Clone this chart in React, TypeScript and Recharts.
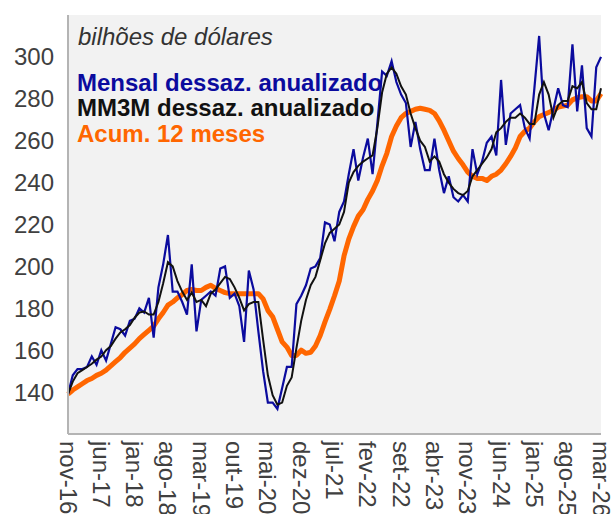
import React from 'react';
import { LineChart, Line, XAxis, YAxis, CartesianGrid } from 'recharts';

// meses (nov-16 .. mar-26)
const months = [
  'nov-16', 'dez-16',
  'jan-17', 'fev-17', 'mar-17', 'abr-17', 'mai-17', 'jun-17', 'jul-17', 'ago-17', 'set-17', 'out-17', 'nov-17', 'dez-17',
  'jan-18', 'fev-18', 'mar-18', 'abr-18', 'mai-18', 'jun-18', 'jul-18', 'ago-18', 'set-18', 'out-18', 'nov-18', 'dez-18',
  'jan-19', 'fev-19', 'mar-19', 'abr-19', 'mai-19', 'jun-19', 'jul-19', 'ago-19', 'set-19', 'out-19', 'nov-19', 'dez-19',
  'jan-20', 'fev-20', 'mar-20', 'abr-20', 'mai-20', 'jun-20', 'jul-20', 'ago-20', 'set-20', 'out-20', 'nov-20', 'dez-20',
  'jan-21', 'fev-21', 'mar-21', 'abr-21', 'mai-21', 'jun-21', 'jul-21', 'ago-21', 'set-21', 'out-21', 'nov-21', 'dez-21',
  'jan-22', 'fev-22', 'mar-22', 'abr-22', 'mai-22', 'jun-22', 'jul-22', 'ago-22', 'set-22', 'out-22', 'nov-22', 'dez-22',
  'jan-23', 'fev-23', 'mar-23', 'abr-23', 'mai-23', 'jun-23', 'jul-23', 'ago-23', 'set-23', 'out-23', 'nov-23', 'dez-23',
  'jan-24', 'fev-24', 'mar-24', 'abr-24', 'mai-24', 'jun-24', 'jul-24', 'ago-24', 'set-24', 'out-24', 'nov-24', 'dez-24',
  'jan-25', 'fev-25', 'mar-25', 'abr-25', 'mai-25', 'jun-25', 'jul-25', 'ago-25', 'set-25', 'out-25', 'nov-25', 'dez-25',
  'jan-26', 'fev-26', 'mar-26',
];

const tickLabels = [
  'nov-16', 'jun-17', 'jan-18', 'ago-18', 'mar-19', 'out-19', 'mai-20', 'dez-20', 'jul-21',
  'fev-22', 'set-22', 'abr-23', 'nov-23', 'jun-24', 'jan-25', 'ago-25', 'mar-26',
];

const yTicks = [140, 160, 180, 200, 220, 240, 260, 280, 300];

// Mensal dessaz. anualizado
const mensal = [
  139, 148, 151, 151, 152, 157, 153, 160, 155, 163, 171, 170,
  167, 174, 175, 180, 178, 185, 166, 190, 201, 215, 188, 188,
  183, 177, 201, 169, 184, 186, 188, 186, 199, 200, 185, 187,
  181, 164, 198, 189, 169, 150, 135, 135, 132, 142, 152, 152,
  182, 186, 191, 199, 200, 204, 221, 220, 212, 226, 231, 244,
  256, 241, 252, 261, 244, 268, 293, 291, 298, 288, 282, 278,
  257, 269, 256, 246, 246, 261, 246, 235, 243, 233, 231, 234,
  231, 256, 244, 250, 259, 262, 253, 289, 258, 273, 275, 277,
  266, 261, 285, 310, 273, 265, 275, 285, 277, 276, 306, 274,
  296, 266, 262, 295, 300,
];

// MM3M dessaz. anualizado
const mm3m = [
  139, 145, 149, 150.5, 152, 153.5, 155.5, 157, 160, 162, 165.5, 168.5,
  170, 172, 175.5, 178, 178.5, 177, 177, 183, 192, 202, 200, 193,
  188, 184, 187.5, 183, 184, 181, 187, 189, 192, 195, 194, 190,
  185, 179, 182, 183, 183, 165, 148, 138.5, 134, 135, 143, 147,
  161, 174, 184, 191, 195, 203, 211, 216, 218, 220, 226, 240,
  245, 248, 250, 251.5, 253, 266, 283, 292, 295, 292, 286, 282,
  273, 266, 260, 257, 250, 252.5, 250, 244, 240, 237, 235, 234,
  236, 243, 246, 249, 252, 256, 264, 266, 269, 271, 271, 273,
  271, 268, 268, 282, 288, 282, 271, 277, 279, 279, 286, 285,
  288, 278, 275, 275, 285,
];

// Acum. 12 meses
const acum12 = [
  139, 141, 142.5, 144, 145.5, 146.5, 148, 149, 150.5, 152.5, 154.5, 156.5,
  159, 161, 163, 165.5, 167.5, 169.5, 171.5, 175, 178, 181.5, 183, 185,
  186.5, 188.5, 189, 188.5, 188.5, 190, 191, 189.5, 188.5, 187.5, 187, 187,
  187, 187, 187, 187, 187, 184.5, 179, 176, 170, 164, 161.5, 157.5,
  157.5, 160, 158.5, 159, 162, 167, 173.5, 179.5, 186, 193, 205, 213,
  219, 224, 227, 232, 236, 241, 248, 254, 262, 267, 271, 273,
  274, 275, 275.5, 275, 274.5, 273, 269.5, 265, 260, 255, 251.5, 248.5,
  245, 243, 242, 242, 241, 243, 244, 246, 249, 252.5, 256.5, 262,
  264.5, 266, 269, 271.5, 272.5, 273.5, 274.5, 276, 276.5, 277, 279.5, 280.5,
  281, 281, 279, 279, 282.5,
];

const data = months.map((m, i) => ({
  month: m,
  mensal: mensal[i],
  mm3m: mm3m[i],
  acum: acum12[i],
}));

const FONT = '"Liberation Sans", Arial, sans-serif';
const TEXT_COLOR = '#404040';
const AXIS_COLOR = '#b4b4b4';
const FS = 24;

const XTick = (props: any) => {
  const { x, y, payload } = props;
  return (
    <text
      transform={`translate(${x},${y}) rotate(90)`}
      textAnchor="start"
      dominantBaseline="central"
      fontSize={FS}
      fill={TEXT_COLOR}
      fontFamily={FONT}
    >
      {payload.value}
    </text>
  );
};

const legendRows = [
  { text: 'Mensal dessaz. anualizado', color: '#0b0b9e', top: 71 },
  { text: 'MM3M dessaz. anualizado', color: '#111111', top: 96 },
  { text: 'Acum. 12 meses', color: '#ff6600', top: 122 },
];

export default function App() {
  return (
    <div
      style={{
        position: 'absolute',
        left: 0,
        top: 0,
        width: 616,
        height: 514,
        background: '#ffffff',
        fontFamily: FONT,
        overflow: 'hidden',
      }}
    >
      <LineChart
        width={616}
        height={514}
        data={data}
        margin={{ top: 15, right: 15, bottom: 0, left: 0 }}
      >
        <CartesianGrid horizontal={false} vertical={false} fill="#f2f2f2" />
        <XAxis
          dataKey="month"
          ticks={tickLabels}
          interval={0}
          height={80}
          tick={<XTick />}
          tickLine={false}
          tickSize={0}
          tickMargin={7}
          axisLine={{ stroke: AXIS_COLOR, strokeWidth: 2 }}
        />
        <YAxis
          domain={[120, 320]}
          ticks={yTicks}
          width={68}
          tickLine={false}
          tickSize={0}
          tickMargin={14}
          axisLine={{ stroke: AXIS_COLOR, strokeWidth: 2 }}
          tick={{ fontSize: FS, fill: TEXT_COLOR, fontFamily: FONT }}
        />
        <Line
          type="linear"
          dataKey="acum"
          stroke="#ff6600"
          strokeWidth={5}
          strokeLinejoin="round"
          dot={false}
          isAnimationActive={false}
        />
        <Line
          type="linear"
          dataKey="mensal"
          stroke="#0b0b9e"
          strokeWidth={2.2}
          dot={false}
          isAnimationActive={false}
        />
        <Line
          type="linear"
          dataKey="mm3m"
          stroke="#111111"
          strokeWidth={2}
          dot={false}
          isAnimationActive={false}
        />
      </LineChart>

      <div
        style={{
          position: 'absolute',
          left: 78,
          top: 25,
          fontSize: FS,
          lineHeight: `${FS}px`,
          fontStyle: 'italic',
          color: '#333333',
          whiteSpace: 'nowrap',
        }}
      >
        bilhões de dólares
      </div>
      {legendRows.map((r) => (
        <div
          key={r.text}
          style={{
            position: 'absolute',
            left: 77,
            top: r.top,
            fontSize: FS,
            lineHeight: `${FS}px`,
            fontWeight: 'bold',
            color: r.color,
            whiteSpace: 'nowrap',
          }}
        >
          {r.text}
        </div>
      ))}
    </div>
  );
}
